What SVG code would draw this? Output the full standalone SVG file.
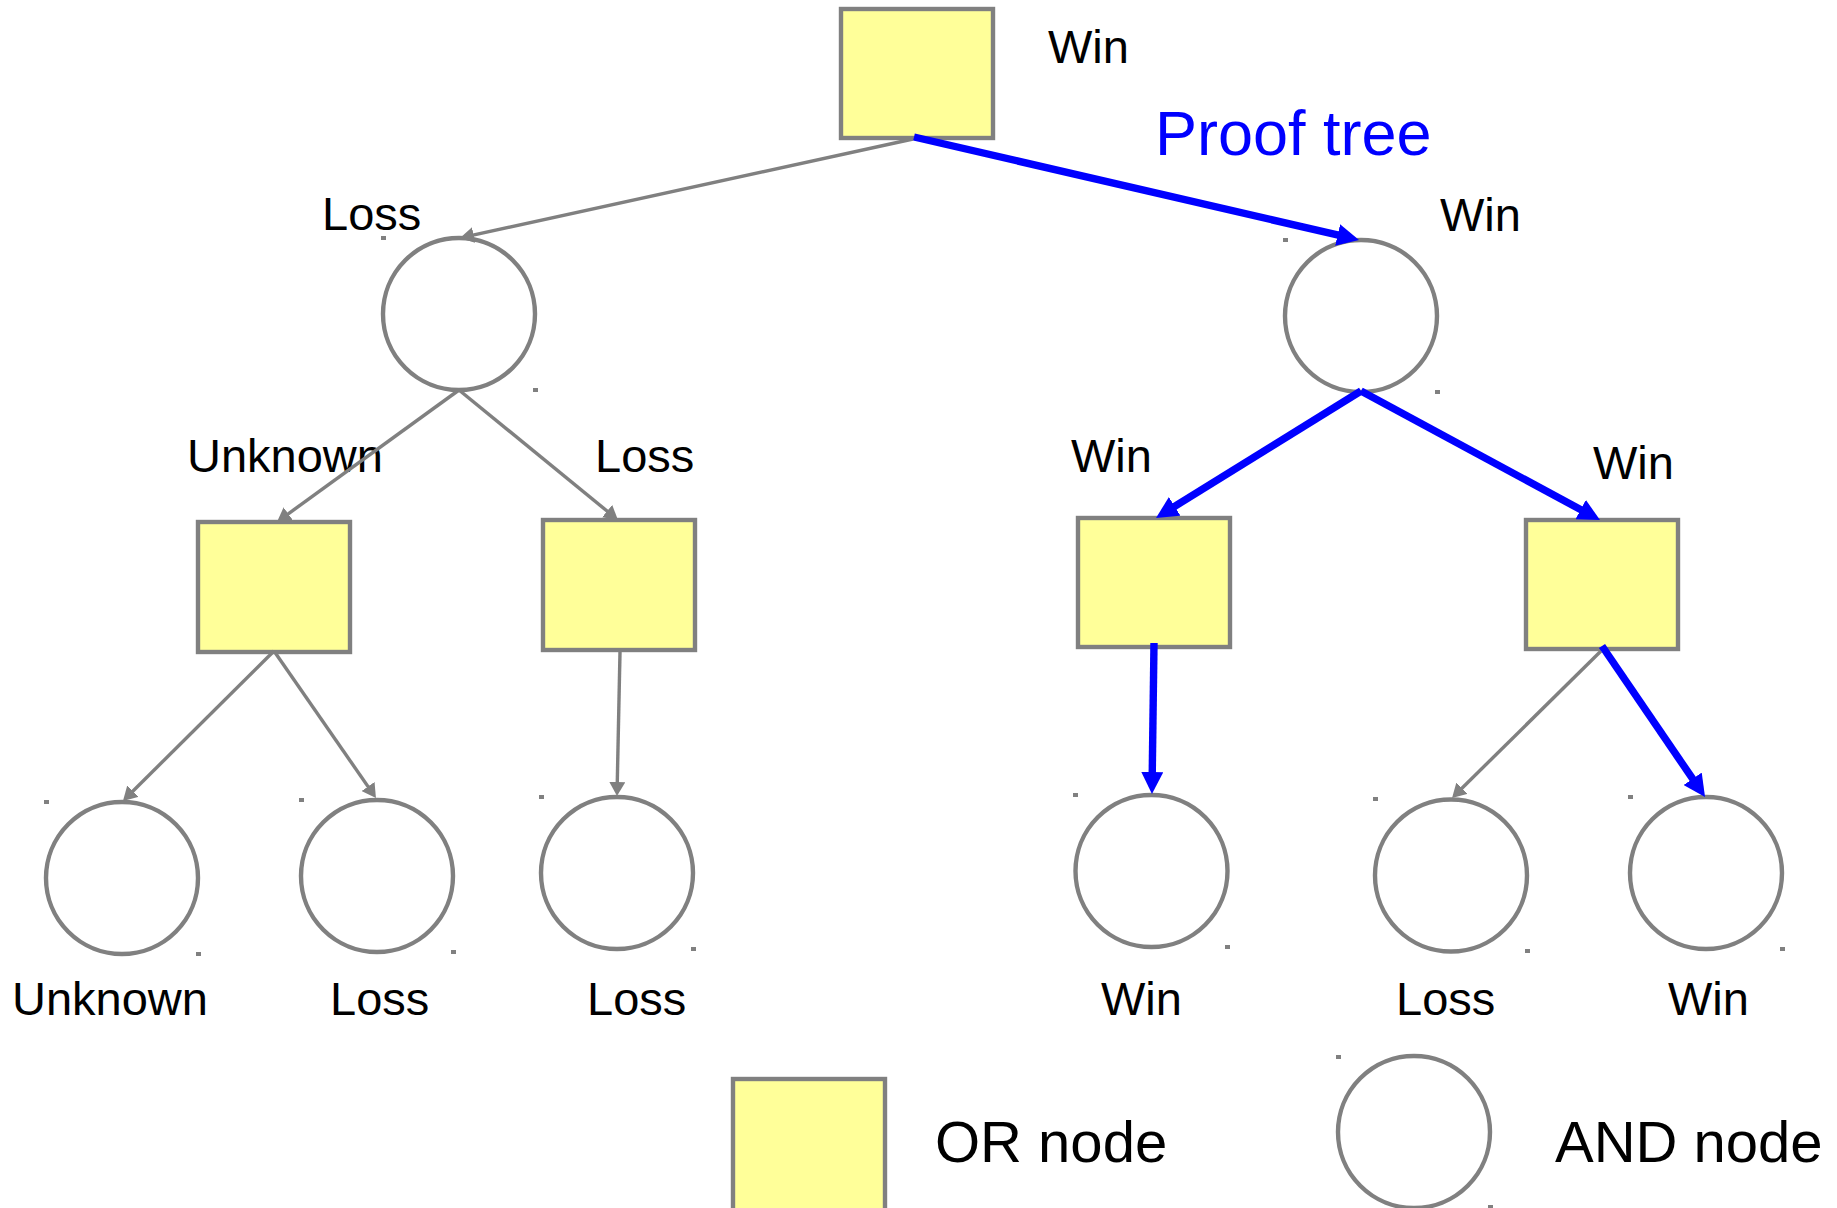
<svg xmlns="http://www.w3.org/2000/svg" width="1837" height="1208" viewBox="0 0 1837 1208">
  <style>
    .or { fill: #ffff99; stroke: #808080; stroke-width: 4.4; }
    .and { fill: #ffffff; stroke: #808080; stroke-width: 4.4; }
    .dot { fill: #808080; }
    .lbl { font-family: "Liberation Sans", Arial, sans-serif; font-size: 47px; fill: #000000; }
    .lbl-b { font-family: "Liberation Sans", Arial, sans-serif; font-size: 47px; fill: #000000; }
    .legend { font-family: "Liberation Sans", Arial, sans-serif; font-size: 58px; fill: #000000; }
    .title { font-family: "Liberation Sans", Arial, sans-serif; font-size: 63px; fill: #0000ff; }
    .edge { stroke: #808080; stroke-width: 3.4; fill: none; marker-end: url(#ah-gray); }
    .proof { stroke: #0000ff; stroke-width: 7.4; fill: none; marker-end: url(#ah-blue); }
  </style>
  <defs>
    <marker id="ah-gray" markerUnits="userSpaceOnUse" markerWidth="14" markerHeight="16" refX="9" refY="8" orient="auto">
      <path d="M0,0 L14,8 L0,16 z" fill="#808080"/>
    </marker>
    <marker id="ah-blue" markerUnits="userSpaceOnUse" markerWidth="22" markerHeight="22" refX="12" refY="11" orient="auto">
      <path d="M0,0 L22,11 L0,22 z" fill="#0000ff"/>
    </marker>
  </defs>

  <rect width="1837" height="1208" fill="#ffffff"/>

  <!-- root OR node -->
  <g id="root">
    <rect class="or" x="841" y="9" width="152" height="129"/>
    <text class="lbl" x="1048" y="63">Win</text>
  </g>

  <text id="proof-title" class="title" x="1155" y="155">Proof tree</text>

  <!-- level 1 AND nodes -->
  <g id="and-left">
    <circle class="and" cx="459" cy="314" r="76"/>
    <rect class="dot" x="381" y="236" width="5" height="4"/>
    <rect class="dot" x="533" y="388" width="5" height="4"/>
    <text class="lbl" x="322" y="230">Loss</text>
  </g>
  <g id="and-right">
    <circle class="and" cx="1361" cy="316" r="76"/>
    <rect class="dot" x="1283" y="238" width="5" height="4"/>
    <rect class="dot" x="1435" y="390" width="5" height="4"/>
    <text class="lbl" x="1440" y="231">Win</text>
  </g>

  <!-- level 2 OR nodes -->
  <g id="or-a">
    <rect class="or" x="198" y="522" width="152" height="130"/>
    <text class="lbl" x="187" y="472">Unknown</text>
  </g>
  <g id="or-b">
    <rect class="or" x="543" y="520" width="152" height="130"/>
    <text class="lbl" x="595" y="472">Loss</text>
  </g>
  <g id="or-c">
    <rect class="or" x="1078" y="518" width="152" height="129"/>
    <text class="lbl" x="1071" y="472">Win</text>
  </g>
  <g id="or-d">
    <rect class="or" x="1526" y="520" width="152" height="129"/>
    <text class="lbl" x="1593" y="479">Win</text>
  </g>

  <!-- level 3 AND leaves -->
  <g id="leaf-1">
    <circle class="and" cx="122" cy="878" r="76"/>
    <rect class="dot" x="44" y="800" width="5" height="4"/>
    <rect class="dot" x="196" y="952" width="5" height="4"/>
    <text class="lbl-b" x="12" y="1015">Unknown</text>
  </g>
  <g id="leaf-2">
    <circle class="and" cx="377" cy="876" r="76"/>
    <rect class="dot" x="299" y="798" width="5" height="4"/>
    <rect class="dot" x="451" y="950" width="5" height="4"/>
    <text class="lbl-b" x="330" y="1015">Loss</text>
  </g>
  <g id="leaf-3">
    <circle class="and" cx="617" cy="873" r="76"/>
    <rect class="dot" x="539" y="795" width="5" height="4"/>
    <rect class="dot" x="691" y="947" width="5" height="4"/>
    <text class="lbl-b" x="587" y="1015">Loss</text>
  </g>
  <g id="leaf-4">
    <circle class="and" cx="1151.5" cy="871" r="76"/>
    <rect class="dot" x="1073" y="793" width="5" height="4"/>
    <rect class="dot" x="1225" y="945" width="5" height="4"/>
    <text class="lbl-b" x="1101" y="1015">Win</text>
  </g>
  <g id="leaf-5">
    <circle class="and" cx="1451" cy="875.5" r="76"/>
    <rect class="dot" x="1373" y="797" width="5" height="4"/>
    <rect class="dot" x="1525" y="949" width="5" height="4"/>
    <text class="lbl-b" x="1396" y="1015">Loss</text>
  </g>
  <g id="leaf-6">
    <circle class="and" cx="1706" cy="873" r="76"/>
    <rect class="dot" x="1628" y="795" width="5" height="4"/>
    <rect class="dot" x="1780" y="947" width="5" height="4"/>
    <text class="lbl-b" x="1668" y="1015">Win</text>
  </g>

  <!-- legend -->
  <g id="legend-or">
    <rect class="or" x="733" y="1079" width="152" height="140"/>
    <text class="legend" x="935" y="1162">OR node</text>
  </g>
  <g id="legend-and">
    <circle class="and" cx="1414" cy="1132" r="76"/>
    <rect class="dot" x="1336" y="1055" width="5" height="4"/>
    <rect class="dot" x="1488" y="1205" width="5" height="4"/>
    <text class="legend" x="1555" y="1162">AND node</text>
  </g>

  <!-- connectors: gray = explored edges, blue = proof tree -->
  <g id="connectors">
    <line class="edge" x1="913" y1="139" x2="464.9" y2="236.9"/>
    <line class="proof" x1="914" y1="137" x2="1349.3" y2="237.7"/>
    <line class="edge" x1="459" y1="390" x2="281" y2="519.1"/>
    <line class="edge" x1="459" y1="390" x2="614.1" y2="516.8"/>
    <line class="proof" x1="1361" y1="391" x2="1164.5" y2="512.7"/>
    <line class="proof" x1="1361" y1="391" x2="1591.2" y2="515.3"/>
    <line class="edge" x1="274" y1="651" x2="126.5" y2="797.5"/>
    <line class="edge" x1="274" y1="651" x2="373.1" y2="793.9"/>
    <line class="edge" x1="620" y1="652" x2="617.1" y2="791"/>
    <line class="proof" x1="1154" y1="643" x2="1152.1" y2="784"/>
    <line class="edge" x1="1601" y1="651" x2="1455.6" y2="794.5"/>
    <line class="proof" x1="1602" y1="646" x2="1699.4" y2="788.7"/>
  </g>
</svg>
